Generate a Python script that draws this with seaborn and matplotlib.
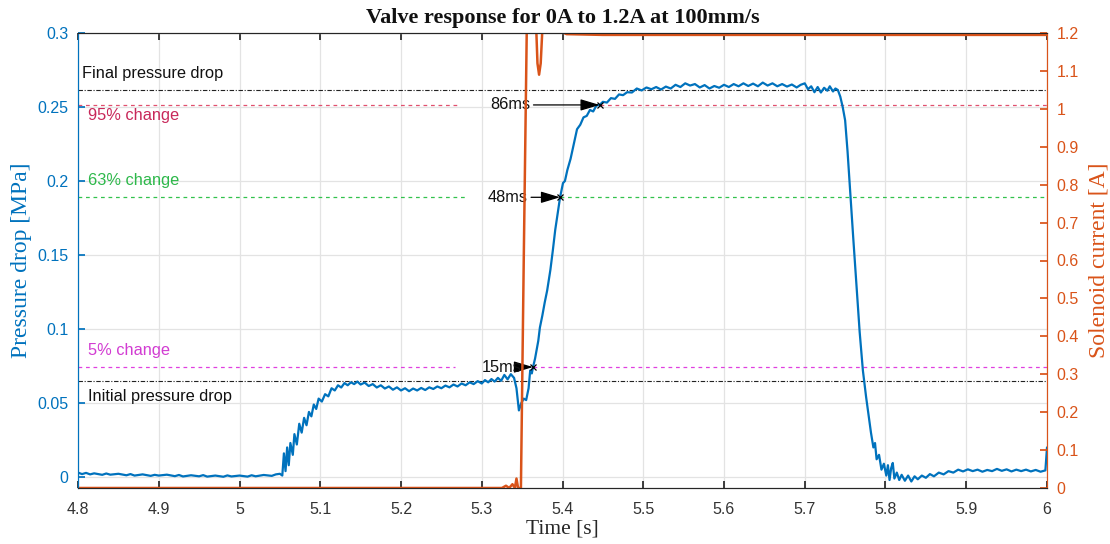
import numpy as np
import pandas as pd
import matplotlib
matplotlib.use("Agg")
import matplotlib.pyplot as plt
import seaborn as sns

# ---------------- data ----------------
p_time = [4.800, 4.805, 4.810, 4.815, 4.820, 4.830, 4.835, 4.840, 4.850, 4.860, 4.865, 4.870, 4.880, 4.890,
          4.895, 4.900, 4.910, 4.920, 4.925, 4.930, 4.940, 4.950, 4.955, 4.960, 4.970, 4.980, 4.985, 4.990,
          5.000, 5.010, 5.015, 5.020, 5.030, 5.040, 5.045, 5.050, 5.053, 5.055, 5.057, 5.059, 5.061, 5.063,
          5.066, 5.068, 5.071, 5.074, 5.077, 5.080, 5.083, 5.086, 5.089, 5.092, 5.095, 5.098, 5.102, 5.106,
          5.110, 5.114, 5.118, 5.122, 5.126, 5.130, 5.134, 5.138, 5.142, 5.146, 5.150, 5.155, 5.160, 5.165,
          5.170, 5.175, 5.180, 5.185, 5.190, 5.195, 5.200, 5.205, 5.210, 5.215, 5.220, 5.225, 5.230, 5.235,
          5.240, 5.245, 5.250, 5.255, 5.260, 5.265, 5.270, 5.275, 5.280, 5.285, 5.290, 5.295, 5.300, 5.304,
          5.308, 5.312, 5.316, 5.320, 5.324, 5.328, 5.332, 5.336, 5.340, 5.343, 5.346, 5.349, 5.352, 5.355,
          5.358, 5.360, 5.362, 5.3635, 5.366, 5.368, 5.370, 5.372, 5.375, 5.378, 5.381, 5.385, 5.388, 5.391,
          5.394, 5.397, 5.4006, 5.403, 5.406, 5.410, 5.414, 5.418, 5.422, 5.426, 5.430, 5.434, 5.438, 5.442,
          5.446, 5.450, 5.455, 5.460, 5.465, 5.470, 5.475, 5.480, 5.486, 5.492, 5.498, 5.504, 5.510, 5.516,
          5.522, 5.528, 5.534, 5.540, 5.546, 5.552, 5.558, 5.564, 5.570, 5.576, 5.582, 5.588, 5.594, 5.600,
          5.606, 5.612, 5.618, 5.624, 5.630, 5.636, 5.642, 5.648, 5.654, 5.660, 5.666, 5.672, 5.678, 5.684,
          5.690, 5.695, 5.700, 5.704, 5.708, 5.712, 5.716, 5.720, 5.724, 5.728, 5.731, 5.735, 5.738, 5.741,
          5.744, 5.747, 5.750, 5.753, 5.756, 5.760, 5.764, 5.768, 5.772, 5.776, 5.779, 5.782, 5.785, 5.787,
          5.789, 5.792, 5.795, 5.798, 5.801, 5.803, 5.805, 5.807, 5.809, 5.811, 5.814, 5.817, 5.820, 5.824,
          5.828, 5.832, 5.836, 5.840, 5.845, 5.850, 5.855, 5.860, 5.866, 5.872, 5.878, 5.884, 5.890, 5.896,
          5.902, 5.908, 5.914, 5.920, 5.926, 5.932, 5.938, 5.944, 5.950, 5.956, 5.962, 5.968, 5.974, 5.980,
          5.986, 5.992, 5.998, 6.000]
p_value = [0.0030, 0.0020, 0.0028, 0.0018, 0.0025, 0.0015, 0.0024, 0.0016, 0.0022, 0.0012, 0.0020, 0.0010, 0.0018, 0.0008,
           0.0015, 0.0010, 0.0016, 0.0006, 0.0014, 0.0004, 0.0012, 0.0005, 0.0013, 0.0003, 0.0010, 0.0002, 0.0011, 0.0004,
           0.0010, 0.0003, 0.0012, 0.0005, 0.0014, 0.0008, 0.0018, 0.0022, 0.0010, 0.0160, 0.0040, 0.0200, 0.0080, 0.0230,
           0.0150, 0.0290, 0.0220, 0.0360, 0.0300, 0.0400, 0.0350, 0.0440, 0.0410, 0.0490, 0.0460, 0.0530, 0.0510, 0.0560,
           0.0545, 0.0600, 0.0585, 0.0620, 0.0605, 0.0635, 0.0620, 0.0640, 0.0628, 0.0645, 0.0625, 0.0638, 0.0615, 0.0628,
           0.0605, 0.0620, 0.0598, 0.0612, 0.0590, 0.0606, 0.0585, 0.0600, 0.0580, 0.0598, 0.0585, 0.0602, 0.0588, 0.0606,
           0.0595, 0.0612, 0.0600, 0.0618, 0.0606, 0.0625, 0.0612, 0.0632, 0.0620, 0.0640, 0.0628, 0.0648, 0.0632, 0.0655,
           0.0640, 0.0662, 0.0645, 0.0670, 0.0650, 0.0690, 0.0660, 0.0695, 0.0670, 0.0600, 0.0450, 0.0500, 0.0530, 0.0520,
           0.0600, 0.0720, 0.0700, 0.0743, 0.0800, 0.0860, 0.0920, 0.1010, 0.1090, 0.1180, 0.1260, 0.1400, 0.1530, 0.1670,
           0.1780, 0.1890, 0.1986, 0.2000, 0.2074, 0.2150, 0.2250, 0.2350, 0.2380, 0.2430, 0.2440, 0.2480, 0.2470, 0.2510,
           0.2514, 0.2535, 0.2530, 0.2560, 0.2555, 0.2585, 0.2580, 0.2600, 0.2598, 0.2625, 0.2612, 0.2632, 0.2620, 0.2635,
           0.2618, 0.2638, 0.2625, 0.2650, 0.2635, 0.2660, 0.2645, 0.2655, 0.2632, 0.2648, 0.2625, 0.2642, 0.2630, 0.2650,
           0.2635, 0.2655, 0.2640, 0.2660, 0.2642, 0.2658, 0.2640, 0.2665, 0.2645, 0.2660, 0.2640, 0.2655, 0.2638, 0.2652,
           0.2632, 0.2650, 0.2660, 0.2620, 0.2640, 0.2600, 0.2635, 0.2598, 0.2630, 0.2610, 0.2640, 0.2605, 0.2625, 0.2615,
           0.2570, 0.2500, 0.2410, 0.2200, 0.1950, 0.1620, 0.1300, 0.0980, 0.0720, 0.0540, 0.0420, 0.0300, 0.0200, 0.0230,
           0.0120, 0.0150, 0.0050, 0.0090, 0.0010, 0.0080, -0.0020, 0.0060, 0.0095, -0.0010, 0.0030, -0.0020, 0.0015, -0.0025,
           0.0010, -0.0030, 0.0005, -0.0015, 0.0010, -0.0005, 0.0020, 0.0005, 0.0030, 0.0018, 0.0040, 0.0030, 0.0050, 0.0038,
           0.0052, 0.0040, 0.0050, 0.0036, 0.0048, 0.0040, 0.0055, 0.0042, 0.0052, 0.0038, 0.0050, 0.0040, 0.0050, 0.0038,
           0.0048, 0.0036, 0.0045, 0.0200]

i_time = [4.800, 5.325, 5.330, 5.334, 5.338, 5.341, 5.343, 5.345, 5.3485, 5.352, 5.356, 5.360, 5.366, 5.369,
          5.371, 5.373, 5.376, 5.382, 5.390, 5.397, 5.405, 5.450, 6.000]
i_value = [0.0, 0.0, 0.006, 0.0, 0.010, 0.0, 0.025, 0.0, 0.0, 0.60, 1.25, 1.40, 1.30, 1.12,
           1.09, 1.12, 1.25, 1.35, 1.26, 1.205, 1.197, 1.195, 1.195]

ref_names = ["Final pressure drop", "95% change", "63% change", "5% change", "Initial pressure drop"]
ref_levels = [0.2615, 0.2514, 0.189, 0.0743, 0.0649]

delay_labels = ["86ms", "48ms", "15ms"]
delay_tip_time = [5.446, 5.397, 5.3635]
delay_text_time = [5.360, 5.357, 5.349]
delay_levels = [0.2514, 0.189, 0.0743]

x_ticks = [4.8, 4.9, 5.0, 5.1, 5.2, 5.3, 5.4, 5.5, 5.6, 5.7, 5.8, 5.9, 6.0]
x_ticklabels = ["4.8", "4.9", "5", "5.1", "5.2", "5.3", "5.4", "5.5", "5.6", "5.7", "5.8", "5.9", "6"]
yl_ticks = [0, 0.05, 0.1, 0.15, 0.2, 0.25, 0.3]
yl_ticklabels = ["0", "0.05", "0.1", "0.15", "0.2", "0.25", "0.3"]
yr_ticks = [0, 0.1, 0.2, 0.3, 0.4, 0.5, 0.6, 0.7, 0.8, 0.9, 1.0, 1.1, 1.2]
yr_ticklabels = ["0", "0.1", "0.2", "0.3", "0.4", "0.5", "0.6", "0.7", "0.8", "0.9", "1", "1.1", "1.2"]

# ---------------- style ----------------
sns.set_theme(style="white")
plt.rcParams['font.family'] = ['Liberation Sans', 'DejaVu Sans']

BLUE = "#0072BD"
ORANGE = "#D95319"
AXGRAY = "#262626"
SERIF = ['Liberation Serif', 'DejaVu Serif']

fig = plt.figure(figsize=(11.1, 5.44), dpi=100)
ax = fig.add_axes([78/1110, 56/544, (1047-78)/1110, (488-33)/544])
ax2 = ax.twinx()

df_p = pd.DataFrame({"t": p_time, "p": p_value})
df_i = pd.DataFrame({"t": i_time, "i": i_value})

# grid
ax.set_xticks(x_ticks)
ax.set_yticks(yl_ticks)
ax.grid(True, color="#e3e3e3", lw=0.9)
ax.set_axisbelow(True)

# reference lines
ax.axhline(ref_levels[0], color="#222222", lw=0.8, ls=(0, (4, 1.5, 1, 1.5)), zorder=2)
ax.axhline(ref_levels[4], color="#222222", lw=0.8, ls=(0, (4, 1.5, 1, 1.5)), zorder=2)
seg_colors = ["#E0506E", "#33C24D", "#E040E0"]
seg_left_end = [5.269, 5.279, 5.267]
for lvl, c, le, tip in zip(ref_levels[1:4], seg_colors, seg_left_end, delay_tip_time):
    ax.hlines(lvl, 4.8, le, colors=c, lw=0.9, linestyles=(0, (3, 3)), zorder=2)
    ax.hlines(lvl, tip, 6.0, colors=c, lw=0.9, linestyles=(0, (3, 3)), zorder=2)

# pressure line
sns.lineplot(data=df_p, x="t", y="p", ax=ax, color=BLUE, lw=1.6, estimator=None, sort=False, zorder=3)

# text labels
txt_colors = ["#111111", "#C8285A", "#2DB84A", "#D23CD2", "#111111"]
txt_pos = [(4.805, 0.2725), (4.812, 0.2445), (4.812, 0.2005), (4.812, 0.0855), (4.812, 0.0545)]
for name, c, (tx, ty) in zip(ref_names, txt_colors, txt_pos):
    ax.text(tx, ty, name, color=c, fontsize=11.8, va="center", ha="left", zorder=4)

# delay arrows
for lab, tip, tt, lvl in zip(delay_labels, delay_tip_time, delay_text_time, delay_levels):
    ax.annotate(lab, xy=(tip, lvl), xytext=(tt, lvl), fontsize=11.8, color="#111111",
                ha="right", va="center", zorder=5,
                arrowprops=dict(arrowstyle="-|>,head_length=1.0,head_width=0.3", color="black",
                                lw=0.9, shrinkA=0, shrinkB=0))
    ax.plot([tip], [lvl], marker="x", ms=4, color="black", mew=0.9, zorder=5)

# current line
sns.lineplot(data=df_i, x="t", y="i", ax=ax2, color=ORANGE, lw=1.8, estimator=None, sort=False)

# axes limits & ticks
ax.set_xlim(4.8, 6.0)
ax.set_ylim(-0.0074, 0.3)
ax2.set_ylim(0, 1.2)
ax.set_xticklabels(x_ticklabels)
ax.set_yticklabels(yl_ticklabels)
ax2.set_yticks(yr_ticks)
ax2.set_yticklabels(yr_ticklabels)

ax.tick_params(axis="x", direction="in", length=5, color=AXGRAY, labelcolor="#333333",
               labelsize=11.5, top=True, bottom=True, pad=10)
ax.tick_params(axis="y", direction="in", length=5, color=BLUE, labelcolor=BLUE, labelsize=11.5,
               left=True, right=False, pad=7)
ax2.tick_params(axis="y", direction="in", length=5, color=ORANGE, labelcolor=ORANGE, labelsize=11.5,
                right=True, pad=7)

for a in (ax, ax2):
    a.spines["left"].set_color(BLUE)
    a.spines["right"].set_color(ORANGE)
    a.spines["top"].set_color(AXGRAY)
    a.spines["bottom"].set_color(AXGRAY)
    for s in a.spines.values():
        s.set_linewidth(0.8)

ax.set_xlabel("Time [s]", family=SERIF, fontsize=15.5, color=AXGRAY, labelpad=2)
ax.set_ylabel("Pressure drop [MPa]", family=SERIF, fontsize=17, color=BLUE, labelpad=4)
ax2.set_ylabel("Solenoid current [A]", family=SERIF, fontsize=17, color=ORANGE, labelpad=7)
ax.set_title("Valve response for 0A to 1.2A at 100mm/s", family=SERIF, fontsize=16,
             fontweight="bold", color="#111111", pad=7)

fig.savefig("out.png", dpi=100)
